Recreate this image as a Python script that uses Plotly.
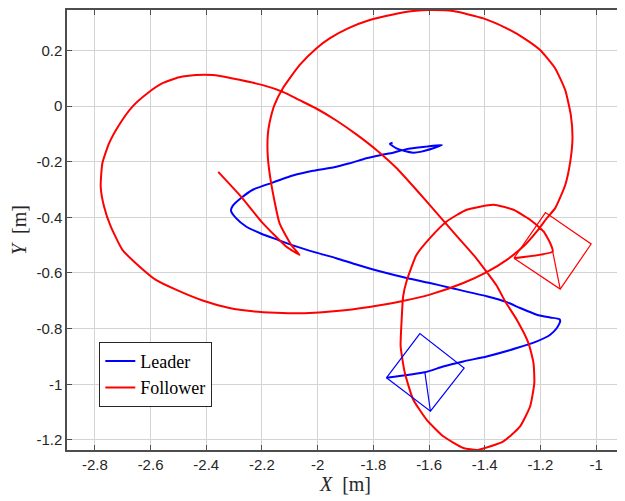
import plotly.graph_objects as go

# ---------------- data (metres) ----------------
leader_x = [-1.731, -1.741, -1.717, -1.693, -1.657, -1.627, -1.585, -1.553,
            -1.609, -1.681, -1.729, -1.771, -1.825, -1.885, -1.945, -2.017,
            -2.089, -2.167, -2.233, -2.275, -2.305, -2.311, -2.293, -2.257,
            -2.202, -2.143, -2.089, -2.005, -1.933, -1.867, -1.777, -1.669,
            -1.597, -1.525, -1.393, -1.321, -1.273, -1.213, -1.165, -1.132,
            -1.129, -1.141, -1.165, -1.213, -1.285, -1.393, -1.477, -1.549,
            -1.615, -1.753]
leader_y = [-0.132, -0.136, -0.152, -0.160, -0.168, -0.164, -0.152, -0.140,
            -0.146, -0.155, -0.168, -0.176, -0.188, -0.206, -0.221, -0.233,
            -0.250, -0.277, -0.301, -0.331, -0.359, -0.377, -0.403, -0.433,
            -0.459, -0.481, -0.501, -0.527, -0.547, -0.568, -0.594, -0.621,
            -0.636, -0.653, -0.684, -0.705, -0.726, -0.750, -0.760, -0.766,
            -0.774, -0.798, -0.822, -0.846, -0.870, -0.900, -0.918, -0.936,
            -0.957, -0.977]

follower_x = [-2.357, -2.275, -2.197, -2.113, -2.065, -2.095, -2.137, -2.167,
              -2.179, -2.179, -2.173, -2.155, -2.125, -2.065, -2.005, -1.957,
              -1.891, -1.813, -1.729, -1.657, -1.597, -1.513, -1.405, -1.321,
              -1.249, -1.201, -1.147, -1.111, -1.091, -1.085, -1.093, -1.111,
              -1.147, -1.177, -1.213, -1.255, -1.321, -1.393, -1.477, -1.597,
              -1.699, -1.777, -1.903, -2.029, -2.065, -2.150, -2.233, -2.317,
              -2.413, -2.509, -2.581, -2.653, -2.701, -2.743, -2.767, -2.779,
              -2.773, -2.749, -2.713, -2.665, -2.611, -2.557, -2.497, -2.437,
              -2.377, -2.305, -2.197, -2.125, -2.065, -2.005, -1.933, -1.861,
              -1.789, -1.717, -1.645, -1.573, -1.501, -1.429, -1.357, -1.327,
              -1.285, -1.243, -1.225, -1.222, -1.237, -1.273,
              -1.333, -1.425, -1.477, -1.549, -1.609, -1.657, -1.687, -1.702,
              -1.699, -1.693, -1.681, -1.645, -1.597, -1.537, -1.465, -1.369,
              -1.297, -1.237, -1.189, -1.165, -1.156, -1.295]
follower_y = [-0.237, -0.326, -0.421, -0.505, -0.535, -0.499, -0.421, -0.277,
              -0.182, -0.104, -0.062, 0.004, 0.064, 0.147, 0.207, 0.243,
              0.279, 0.309, 0.329, 0.341, 0.345, 0.341, 0.315, 0.279,
              0.237, 0.201, 0.135, 0.057, -0.032, -0.116, -0.200, -0.284,
              -0.367, -0.403, -0.451, -0.499, -0.553, -0.597, -0.636, -0.678,
              -0.702, -0.716, -0.734, -0.744, -0.745, -0.743, -0.738, -0.726,
              -0.699, -0.660, -0.625, -0.565, -0.517, -0.433, -0.361, -0.290,
              -0.206, -0.134, -0.068, -0.002, 0.046, 0.082, 0.103, 0.111,
              0.111, 0.099, 0.075, 0.051, 0.021, -0.009, -0.052, -0.102,
              -0.158, -0.223, -0.302, -0.384, -0.467, -0.549, -0.646, -0.702,
              -0.768, -0.852, -0.924, -0.995, -1.079, -1.151,
              -1.205, -1.236, -1.229, -1.187, -1.127, -1.055, -0.959, -0.864,
              -0.780, -0.684, -0.631, -0.535, -0.475, -0.415, -0.373, -0.355,
              -0.373, -0.409, -0.451, -0.493, -0.523, -0.547]

# robot outlines (square) and heading line
leader_body_x = [-1.753, -1.633, -1.474, -1.595, -1.753]
leader_body_y = [-0.977, -0.818, -0.942, -1.097, -0.977]
leader_head_x = [-1.615, -1.595]
leader_head_y = [-0.957, -1.097]

follower_body_x = [-1.295, -1.182, -1.018, -1.129, -1.295]
follower_body_y = [-0.547, -0.383, -0.496, -0.658, -0.547]
follower_head_x = [-1.156, -1.129]
follower_head_y = [-0.523, -0.658]

x_ticks = [-2.8, -2.6, -2.4, -2.2, -2.0, -1.8, -1.6, -1.4, -1.2, -1.0]
x_tick_labels = ["-2.8", "-2.6", "-2.4", "-2.2", "-2", "-1.8", "-1.6", "-1.4", "-1.2", "-1"]
y_ticks = [0.2, 0.0, -0.2, -0.4, -0.6, -0.8, -1.0, -1.2]
y_tick_labels = ["0.2", "0", "-0.2", "-0.4", "-0.6", "-0.8", "-1", "-1.2"]

BLUE = "#0000ff"
RED = "#ff0000"

fig = go.Figure()
fig.add_trace(go.Scatter(x=leader_x, y=leader_y, mode="lines", name="Leader",
                         line=dict(color=BLUE, width=2, shape="spline", smoothing=0.5)))
fig.add_trace(go.Scatter(x=follower_x, y=follower_y, mode="lines", name="Follower",
                         line=dict(color=RED, width=2, shape="spline", smoothing=0.5)))
for bx, by, c in [(leader_body_x, leader_body_y, BLUE), (leader_head_x, leader_head_y, BLUE),
                  (follower_body_x, follower_body_y, RED), (follower_head_x, follower_head_y, RED)]:
    fig.add_trace(go.Scatter(x=bx, y=by, mode="lines", showlegend=False,
                             line=dict(color=c, width=1.2), hoverinfo="skip"))

axis_common = dict(
    showline=True, linecolor="#4d4d4d", linewidth=1.5, mirror="ticks",
    ticks="inside", ticklen=5, tickcolor="#4d4d4d", tickwidth=1,
    showgrid=True, gridcolor="#d3d3d3", gridwidth=1.3, zeroline=False,
    automargin=False,
    tickfont=dict(family="Liberation Sans, Arial, sans-serif", size=15, color="#262626"),
)

fig.update_xaxes(range=[-2.9, -0.9], tickvals=x_ticks, ticktext=x_tick_labels,
                 title=dict(text="<i>X</i>  [m]", standoff=0,
                            font=dict(family="Liberation Serif, serif", size=20, color="#262626")),
                 **axis_common)
fig.update_yaxes(range=[-1.2363, 0.345], tickvals=y_ticks, ticktext=y_tick_labels,
                 title=dict(text="<i>Y</i>  [m]", standoff=6,
                            font=dict(family="Liberation Serif, serif", size=20, color="#262626")),
                 **axis_common)

# the page body adds an 8 px offset, so the figure is 8 px smaller each way
fig.update_layout(
    width=617, height=493,
    margin=dict(l=59, r=1, t=2, b=51, autoexpand=False),
    paper_bgcolor="white", plot_bgcolor="white",
    showlegend=True,
    legend=dict(x=0.058, y=0.172, xanchor="left", yanchor="middle",
                bgcolor="white", bordercolor="#262626", borderwidth=1,
                font=dict(family="Liberation Serif, serif", size=18, color="#000000"),
                itemwidth=30, tracegroupgap=0),
)

fig.write_html("out.html")
